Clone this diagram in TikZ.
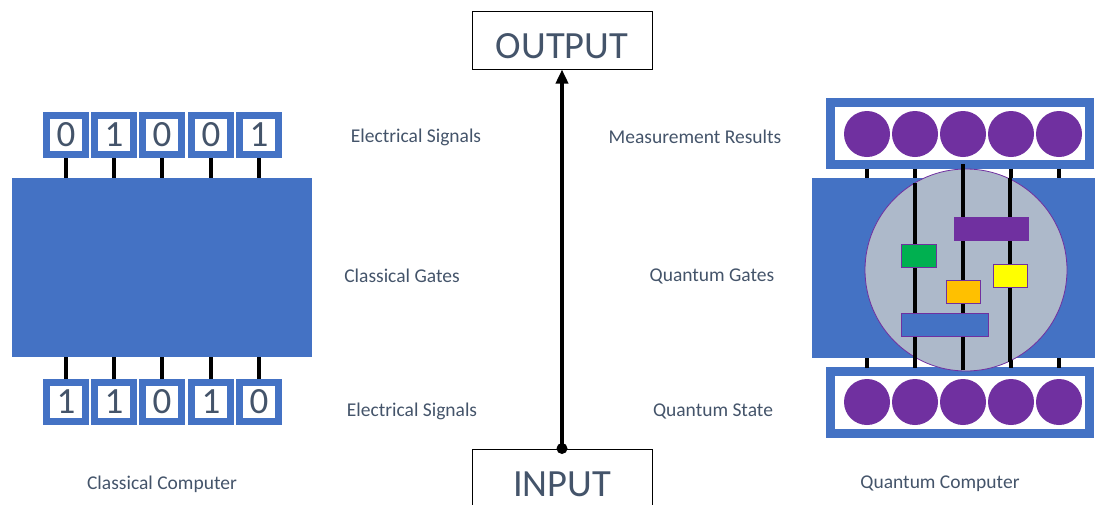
\documentclass[tikz,border=0pt]{standalone}
\usepackage{fontspec}
\setmainfont{Carlito}
\usetikzlibrary{arrows.meta}
\definecolor{gblue}{HTML}{4472C4}
\definecolor{slate}{HTML}{44546A}
\definecolor{qpurple}{HTML}{7030A0}
\definecolor{cloud}{HTML}{ADB9CA}
\definecolor{ggreen}{HTML}{00B050}
\definecolor{gyellow}{HTML}{FFFF00}
\definecolor{gorange}{HTML}{FFC000}
\tikzset{
  bitbox/.style={draw=gblue, line width=7pt, fill=white, minimum size=39pt,
    inner sep=0pt, text=slate, font=\fontsize{37}{37}\selectfont},
  wire/.style={line width=4pt, black},
  block/.style={fill=gblue, draw=none, inner sep=0pt},
  register/.style={draw=gblue, line width=9pt, fill=white, minimum width=259pt,
    minimum height=62pt, inner sep=0pt},
  qubit/.style={circle, fill=qpurple, minimum size=46pt, inner sep=0pt},
  gate/.style={draw=qpurple, line width=0.8pt, inner sep=0pt},
  caption/.style={text=slate, font=\fontsize{19.5}{20}\selectfont},
  iobox/.style={draw=black, line width=1pt, fill=white, minimum width=180pt,
    inner sep=0pt, text=slate, font=\fontsize{38.5}{39}\selectfont},
}
\begin{document}
\begin{tikzpicture}[x=1pt, y=-1pt]
\useasboundingbox (0,0) rectangle (1095,504);

% ---------- classical computer ----------
\node[block, minimum width=300pt, minimum height=179pt] (cg) at (162,267.5) {};
\foreach \i/\x/\b in {1/66/0, 2/114/1, 3/162/0, 4/211/0, 5/259/1} {
  \node[bitbox] (t\i) at (\x,135) {\b};
}
\foreach \i/\x/\b in {1/66/1, 2/114/1, 3/162/0, 4/211/1, 5/259/0} {
  \node[bitbox] (c\i) at (\x,402) {\b};
}
\foreach \i in {1,...,5} {
  \draw[wire] (t\i.south) -- (t\i.south |- cg.north);
  \draw[wire] (c\i.north) -- (c\i.north |- cg.south);
}

% ---------- quantum computer ----------
\node[register] (mr) at (960,133.5) {};
\node[register] (qs) at (959.5,402.5) {};
\foreach \i/\x in {1/867, 2/915, 3/963, 4/1011, 5/1059} {
  \node[qubit] (qt\i) at (\x,134) {};
  \node[qubit] (qb\i) at (\x,402) {};
}
\node[block, minimum width=283pt, minimum height=180pt] (qg) at (953.5,268) {};
\foreach \i in {1,...,5} {
  \draw[wire, shorten <=-0.5pt] (qt\i |- mr.south) -- (qt\i |- qg.north);
  \draw[wire, shorten <=-0.5pt] (qb\i |- qs.north) -- (qb\i |- qg.south);
}
\node[circle, fill=cloud, draw=qpurple, line width=0.8pt, minimum size=202pt,
  inner sep=0pt] (sphere) at (966,270) {};

% wires running through the gate region
\coordinate (w2a) at (915,183); \coordinate (w2b) at (915,367);
\coordinate (w3a) at (963,164); \coordinate (w3b) at (963,370);
\coordinate (w4a) at (1010,178); \coordinate (w4b) at (1010,362);
\draw[wire] (w2a) -- (w2b);
\draw[wire] (w3a) -- (w3b);
\draw[wire] (w4a) -- (w4b);

% gates
\node[gate, fill=qpurple, minimum width=74pt, minimum height=23pt] (gp) at (991,228.5) {};
\node[gate, fill=ggreen, minimum width=35pt, minimum height=23pt] (gg) at (918.5,255.5) {};
\node[gate, fill=gyellow, minimum width=34pt, minimum height=23pt] (gy) at (1010,275.5) {};
\node[gate, fill=gorange, minimum width=34pt, minimum height=23pt] (go) at (963,291.5) {};
\node[gate, fill=gblue, minimum width=87pt, minimum height=23pt] (gb) at (944.5,324.5) {};

% ---------- input / output ----------
\node[iobox, minimum height=58pt] (out) at (562,40) {};
\node[text=slate, font=\fontsize{38.5}{39}\selectfont, inner sep=0pt] (outtxt) at (562,46) {OUTPUT};
\node[iobox, minimum height=70pt] (in) at (562,484) {INPUT};
\draw[line width=3.5pt, -{Triangle[length=14pt, width=12pt]}] (in.north) -- (out.south);
\fill (in.north) circle (5.5pt);

% ---------- captions ----------
\node[caption] (l1) at (416,137) {Electrical Signals};
\node[caption] (l2) at (402,276) {Classical Gates};
\node[caption] (l3) at (412,411) {Electrical Signals};
\node[caption] (l4) at (162,484) {Classical Computer};
\node[caption] (r1) at (695,137) {Measurement Results};
\node[caption] (r2) at (712,276) {Quantum Gates};
\node[caption] (r3) at (713,411) {Quantum State};
\node[caption] (r4) at (940,484) {Quantum Computer};
\end{tikzpicture}
\end{document}
